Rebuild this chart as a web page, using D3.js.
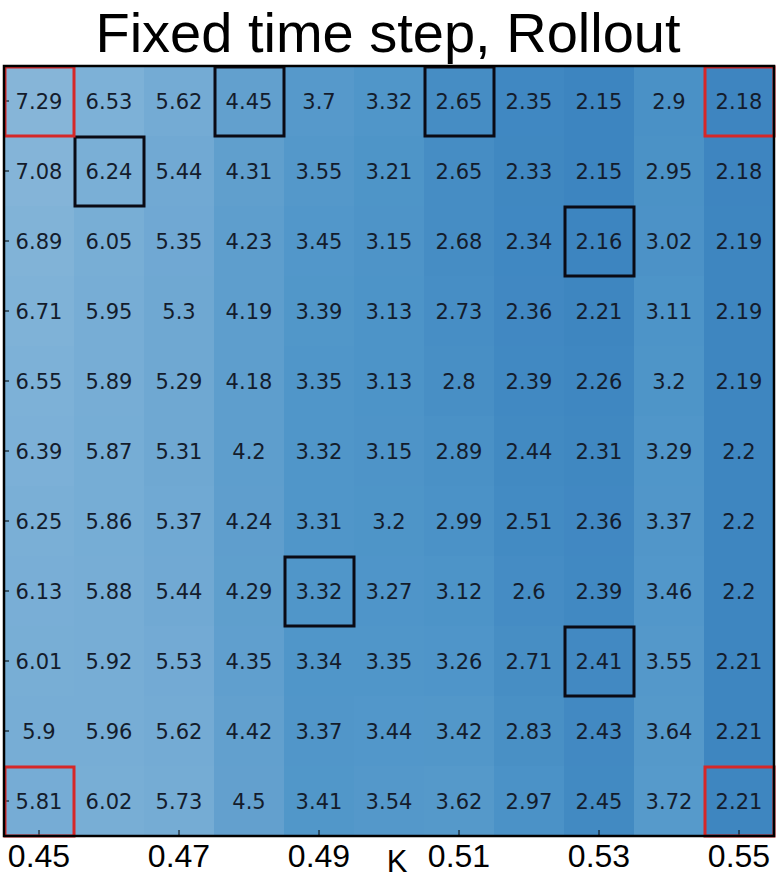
<!DOCTYPE html>
<html>
<head>
<meta charset="utf-8">
<script src="https://cdn.jsdelivr.net/npm/d3@7"></script>
<style>
  body { margin: 0; background: #fff; }
</style>
</head>
<body>
<script>
const width = 780;
const height = 880;
const margin = {top: 66, left: 4, right: 6, bottom: 44};

const kLabels = ["0.45", "0.46", "0.47", "0.48", "0.49", "0.50", "0.51", "0.52", "0.53", "0.54", "0.55"];
const tickLabels = ["0.45", "0.47", "0.49", "0.51", "0.53", "0.55"];

const values = [
    [7.29, 6.53, 5.62, 4.45, 3.7, 3.32, 2.65, 2.35, 2.15, 2.9, 2.18],
    [7.08, 6.24, 5.44, 4.31, 3.55, 3.21, 2.65, 2.33, 2.15, 2.95, 2.18],
    [6.89, 6.05, 5.35, 4.23, 3.45, 3.15, 2.68, 2.34, 2.16, 3.02, 2.19],
    [6.71, 5.95, 5.3, 4.19, 3.39, 3.13, 2.73, 2.36, 2.21, 3.11, 2.19],
    [6.55, 5.89, 5.29, 4.18, 3.35, 3.13, 2.8, 2.39, 2.26, 3.2, 2.19],
    [6.39, 5.87, 5.31, 4.2, 3.32, 3.15, 2.89, 2.44, 2.31, 3.29, 2.2],
    [6.25, 5.86, 5.37, 4.24, 3.31, 3.2, 2.99, 2.51, 2.36, 3.37, 2.2],
    [6.13, 5.88, 5.44, 4.29, 3.32, 3.27, 3.12, 2.6, 2.39, 3.46, 2.2],
    [6.01, 5.92, 5.53, 4.35, 3.34, 3.35, 3.26, 2.71, 2.41, 3.55, 2.21],
    [5.9, 5.96, 5.62, 4.42, 3.37, 3.44, 3.42, 2.83, 2.43, 3.64, 2.21],
    [5.81, 6.02, 5.73, 4.5, 3.41, 3.54, 3.62, 2.97, 2.45, 3.72, 2.21]
];

// highlighted cells [row, col]
const blackBoxes = [[0, 3], [0, 6], [1, 1], [2, 8], [7, 4], [8, 8]];
const redBoxes = [[0, 0], [0, 10], [10, 0], [10, 10]];

const colorStops = [2.15, 2.9, 3.32, 4.45, 5.62, 6.53, 7.29];
const colorRange = ["#3d85c0", "#4a91c6", "#5096c9", "#62a0ce", "#74abd4", "#7db1d7", "#86b5d8"];

const svg = d3.select("body").append("svg")
    .attr("width", width)
    .attr("height", height);

const plotW = width - margin.left - margin.right;
const plotH = height - margin.top - margin.bottom;

let x = d3.scaleBand().domain(kLabels).range([margin.left, margin.left + plotW]);
let y = d3.scaleBand().domain(d3.range(values.length)).range([margin.top, margin.top + plotH]);
let color = d3.scaleLinear().domain(colorStops).range(colorRange);

let cells = [];
values.forEach(function(row, i) {
    row.forEach(function(v, j) {
        cells.push({row: i, col: j, value: v});
    });
});

svg.selectAll("rect.cell")
    .data(cells)
    .enter().append("rect")
    .attr("class", "cell")
    .attr("x", function(d) { return x(kLabels[d.col]); })
    .attr("y", function(d) { return y(d.row); })
    .attr("width", x.bandwidth() + 0.5)
    .attr("height", y.bandwidth() + 0.5)
    .attr("fill", function(d) { return color(d.value); });

svg.selectAll("text.val")
    .data(cells)
    .enter().append("text")
    .attr("class", "val")
    .attr("x", function(d) { return x(kLabels[d.col]) + x.bandwidth() / 2; })
    .attr("y", function(d) { return y(d.row) + y.bandwidth() / 2; })
    .attr("dy", "0.36em")
    .attr("text-anchor", "middle")
    .style("font-family", "DejaVu Sans, sans-serif")
    .style("font-size", "21px")
    .attr("fill", "#141c2c")
    .text(function(d) { return d.value; });

// left ticks (inside)
svg.selectAll("line.ytick")
    .data(d3.range(values.length))
    .enter().append("line")
    .attr("x1", margin.left)
    .attr("x2", margin.left + 5)
    .attr("y1", function(d) { return y(d) + y.bandwidth() / 2; })
    .attr("y2", function(d) { return y(d) + y.bandwidth() / 2; })
    .attr("stroke", "#000")
    .attr("stroke-width", 1);

// bottom ticks (inside)
svg.selectAll("line.xtick")
    .data(tickLabels)
    .enter().append("line")
    .attr("x1", function(d) { return x(d) + x.bandwidth() / 2; })
    .attr("x2", function(d) { return x(d) + x.bandwidth() / 2; })
    .attr("y1", margin.top + plotH)
    .attr("y2", margin.top + plotH - 6)
    .attr("stroke", "#000")
    .attr("stroke-width", 1);

function drawBoxes(list, stroke) {
    svg.selectAll(null)
        .data(list)
        .enter().append("rect")
        .attr("x", function(d) { return x(kLabels[d[1]]) + 1; })
        .attr("y", function(d) { return y(d[0]) + 1; })
        .attr("width", x.bandwidth() - 1)
        .attr("height", y.bandwidth() - 1)
        .attr("fill", "none")
        .attr("stroke", stroke)
        .attr("stroke-width", 3);
}
drawBoxes(blackBoxes, "#0a0a14");
drawBoxes(redBoxes, "#d62728");

// frame
svg.append("rect")
    .attr("x", margin.left)
    .attr("y", margin.top)
    .attr("width", plotW)
    .attr("height", plotH)
    .attr("fill", "none")
    .attr("stroke", "#000")
    .attr("stroke-width", 2.5);

svg.selectAll("text.xlab")
    .data(tickLabels)
    .enter().append("text")
    .attr("class", "xlab")
    .attr("x", function(d) { return x(d) + x.bandwidth() / 2; })
    .attr("y", margin.top + plotH + 31)
    .attr("text-anchor", "middle")
    .style("font-family", "Liberation Sans, Arial, sans-serif")
    .style("font-size", "32px")
    .attr("fill", "#000")
    .text(function(d) { return d; });

svg.append("text")
    .attr("x", 397)
    .attr("y", 872)
    .attr("text-anchor", "middle")
    .style("font-family", "Liberation Sans, Arial, sans-serif")
    .style("font-size", "31px")
    .text("K");

svg.append("text")
    .attr("x", 388)
    .attr("y", 52)
    .attr("text-anchor", "middle")
    .style("font-family", "Liberation Sans, Arial, sans-serif")
    .style("font-size", "56px")
    .text("Fixed time step, Rollout");
</script>
</body>
</html>
